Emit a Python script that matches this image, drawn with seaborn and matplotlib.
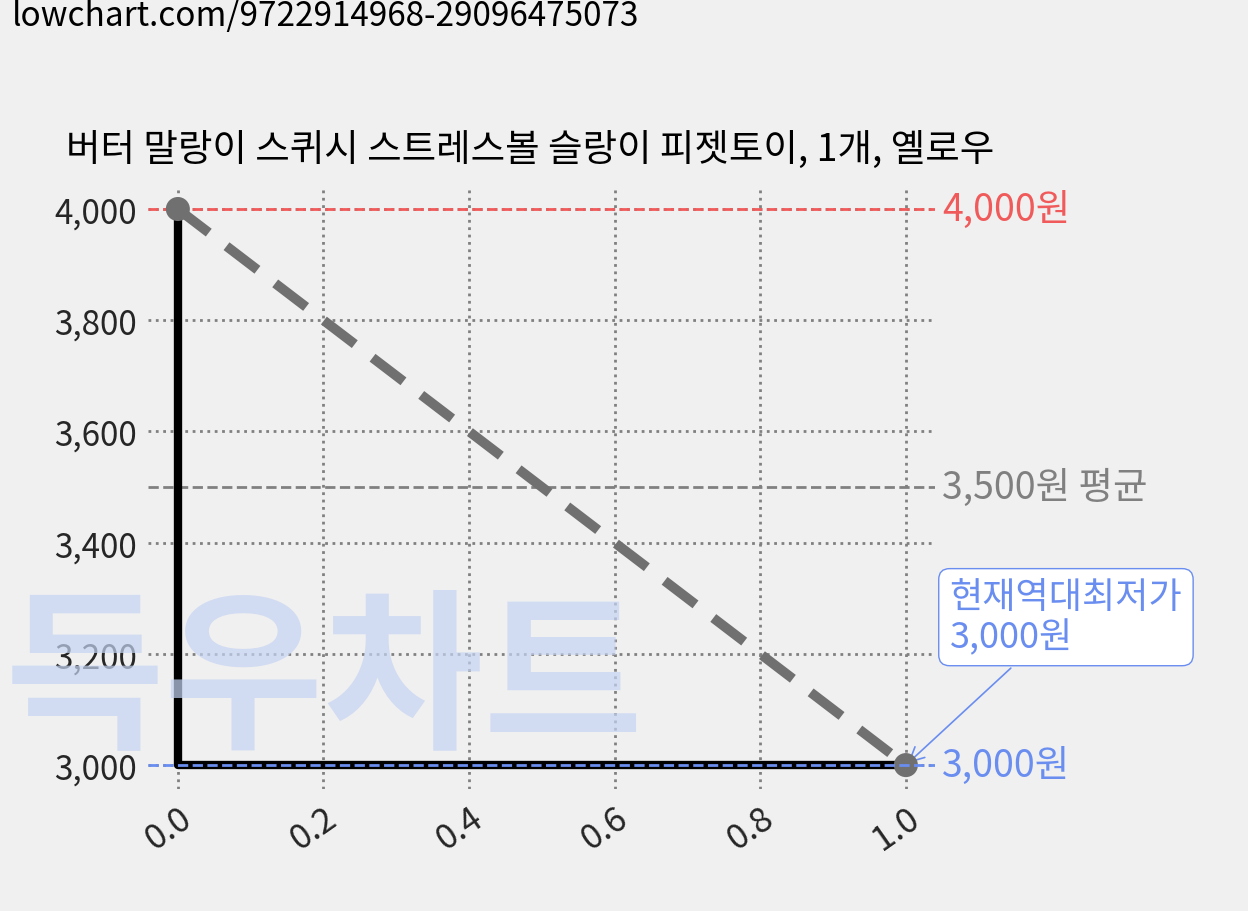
import matplotlib
matplotlib.use("Agg")
import matplotlib.pyplot as plt
import seaborn as sns
import pandas as pd

sns.set_theme(style="white")
plt.rcParams['font.family'] = ['Noto Sans CJK KR', 'DejaVu Sans']
plt.rcParams['font.weight'] = 'light'

title = "버터 말랑이 스퀴시 스트레스볼 슬랑이 피젯토이, 1개, 옐로우"
url = "lowchart.com/9722914968-29096475073"
x_vals = [0.0, 1.0]
prices = [4000, 3000]
max_price = 4000
avg_price = 3500
min_price = 3000
xticks = [0.0, 0.2, 0.4, 0.6, 0.8, 1.0]
yticks = [3000, 3200, 3400, 3600, 3800, 4000]

bg = "#f0f0f0"
fig = plt.figure(figsize=(12.48, 9.12), dpi=100, facecolor=bg)
ax = fig.add_axes([148/1248, 1-790/912, (935-148)/1248, 600/912], facecolor=bg)

fig.text(5/1248, 1-683/912, "득우차트", fontsize=125, fontweight="bold", style="italic",
         color="#c5d3f2", alpha=0.7, va="center", zorder=0)

df = pd.DataFrame({"x": x_vals, "price": prices})
ax.plot([x_vals[0], x_vals[0], x_vals[1]], [prices[0], prices[1], prices[1]], color="black", lw=6, zorder=3)
sns.lineplot(data=df, x="x", y="price", ax=ax, color="#707070", lw=7, dashes=(4, 2.3), zorder=4)
sns.scatterplot(data=df, x="x", y="price", ax=ax, color="#707070", s=300, zorder=5, edgecolor="none")

ax.axhline(max_price, color="#f05a5a", ls="--", lw=2, zorder=2)
ax.axhline(avg_price, color="#808080", ls="--", lw=2, zorder=2)
ax.axhline(min_price, color="#6a8df0", ls="--", lw=2, zorder=6)

ax.set_xlim(-0.041, 1.04)
ax.set_ylim(2957, 4036)
ax.set_xticks(xticks)
ax.set_xticklabels([f"{t:.1f}" for t in xticks], rotation=35, fontsize=25, ha="right", rotation_mode="anchor")
ax.set_yticks(yticks)
ax.set_yticklabels([f"{t:,}" for t in yticks], fontsize=24)
ax.grid(True, ls=":", color="#808080", lw=2)
for s in ax.spines.values():
    s.set_visible(False)
ax.set_xlabel(""); ax.set_ylabel("")
ax.tick_params(length=0, pad=8)
ax.patch.set_alpha(0)

tr = ax.get_yaxis_transform()
ax.text(1.009, max_price, f"{max_price:,}원", color="#f05a5a", fontsize=27, va="center", transform=tr)
ax.text(1.009, avg_price, f"{avg_price:,}원 평균", color="#808080", fontsize=27, va="center", transform=tr)
ax.text(1.009, min_price, f"{min_price:,}원", color="#6a8df0", fontsize=27, va="center", transform=tr)
ax.annotate(f"현재역대최저가\n{min_price:,}원", xy=(1.0, min_price), xytext=(1.06, 3266),
            fontsize=26, color="#6a8df0", ha="left", va="center", linespacing=1.1,
            bbox=dict(boxstyle="round,pad=0.3", fc="white", ec="#6a8df0"),
            arrowprops=dict(arrowstyle="->", color="#6a8df0", lw=1.2), annotation_clip=False)

fig.text(12/1248, 1-16/912, url, fontsize=24, va="center", color="black")
fig.text(66/1248, 1-150/912, title, fontsize=27, va="center", color="black")

fig.savefig("out.png", dpi=100, facecolor=bg)
